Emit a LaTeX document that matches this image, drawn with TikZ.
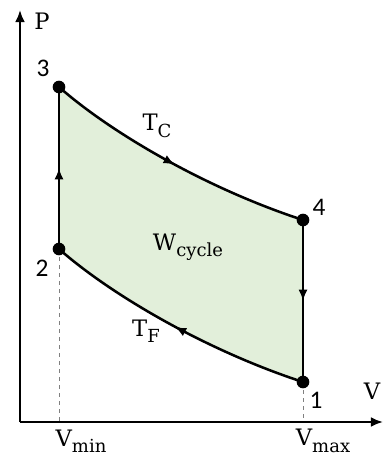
\documentclass[tikz,border=0pt]{standalone}
\usepackage{fontspec}
\setmainfont{DejaVu Serif}
\newfontfamily\numfont{Carlito}
\usepackage{tikz}
\usetikzlibrary{calc,arrows.meta,positioning,decorations.markings}
\definecolor{cycfill}{HTML}{E2EFDA}
\definecolor{dashc}{HTML}{808080}
\newcommand{\lowtext}[1]{\raisebox{-0.28em}{\fontsize{13.5}{13.5}\selectfont #1}}
\tikzset{
  axis/.style={line width=1.6pt,-{Latex[length=3.2mm,width=2.6mm]}},
  proc/.style={line width=1.9pt,postaction={decorate},
    decoration={markings,mark=at position 0.5 with {\arrow{Latex[length=3mm,width=2.4mm]}}}},
  guide/.style={dashc,dashed,line width=0.6pt},
  state/.style={circle,fill=black,inner sep=0pt,minimum size=9.5pt},
  num/.style={font=\numfont\fontsize{19}{19}\selectfont},
  lbl/.style={font=\fontsize{17}{17}\selectfont}
}
\begin{document}
\begin{tikzpicture}[x=0.75pt,y=-0.75pt]
\useasboundingbox (0,0) rectangle (383,459);
% axes
\coordinate (o) at (20,422);
\coordinate (ytop) at (20,10);
\coordinate (xend) at (383,422);
\coordinate (vmin) at (59,422);
\coordinate (vmax) at (303,422);
% states
\coordinate (s1) at (303,382);
\coordinate (s2) at (59,249);
\coordinate (s3) at (59,87);
\coordinate (s4) at (303,220);
% work area
\fill[cycfill] (s3) .. controls (110,132) and (205,188) .. (s4) -- (s1)
  .. controls (205,350) and (110,294) .. (s2) -- cycle;
\draw[guide] (s2) -- (vmin);
\draw[guide] (s1) -- (vmax);
\draw[axis] (o) -- (ytop);
\draw[axis] (o) -- (xend);
% processes
\draw[proc] (s3) .. controls (110,132) and (205,188) .. (s4);
\draw[proc] (s4) -- (s1);
\draw[proc] (s1) .. controls (205,350) and (110,294) .. (s2);
\draw[proc] (s2) -- (s3);
\foreach \s in {1,...,4}{
  \node[state] (n\s) at (s\s) {};
}
% labels
\node[lbl] (lp) at (42,21) {P};
\node[lbl] (lv) at (372,391) {V};
\node[num] (l3) at (43,68) {3};
\node[num] (l2) at (42,268) {2};
\node[num] (l4) at (319,207) {4};
\node[num] (l1) at (316,400) {1};
\node[lbl] (lmin) at (81,441) {V\lowtext{min}};
\node[lbl] (lmax) at (323,441) {V\lowtext{max}};
\node[lbl] (ltc) at (157,126) {T\lowtext{C}};
\node[lbl] (ltf) at (146,331) {T\lowtext{F}};
\node[lbl] (lw) at (188,247) {W\lowtext{cycle}};
\end{tikzpicture}
\end{document}
